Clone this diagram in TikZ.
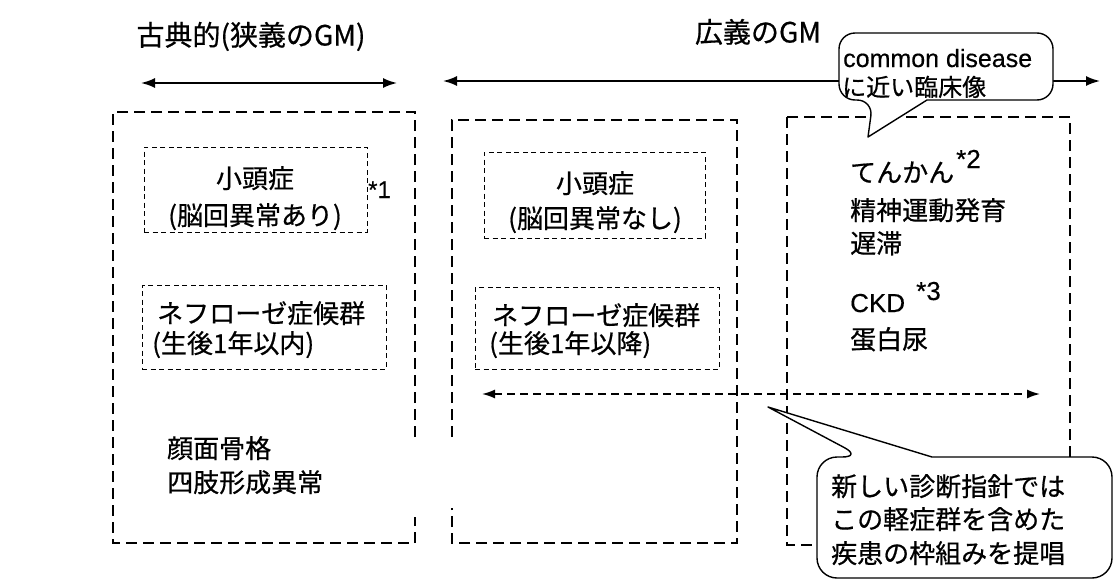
\documentclass[tikz,border=0pt]{standalone}
\usepackage{fontspec}
\setmainfont{Noto Sans CJK JP}[UprightFeatures={FakeBold=0.6}]
\newfontfamily\lat{Liberation Sans}[UprightFeatures={FakeBold=0.4}]
\usetikzlibrary{arrows.meta}
\begin{document}
\begin{tikzpicture}[x=1pt,y=-1pt,
  outerbox/.style={line width=1.4pt, dash pattern=on 11pt off 6pt},
  innerbox/.style={draw, line width=0.9pt, dash pattern=on 5pt off 3.5pt, inner sep=0pt},
  jp/.style={font=\fontsize{26}{30}\selectfont, inner sep=0pt},
  titletxt/.style={font=\fontsize{28}{32}\selectfont, inner sep=0pt, anchor=base},
  latnote/.style={font=\lat\fontsize{24}{26}\selectfont, inner sep=0pt, anchor=base west},
  callout/.style={draw, line width=1.4pt, fill=white, line join=round},
  solidarr/.style={line width=1.8pt, {Latex[length=14pt,width=10pt]}-{Latex[length=14pt,width=10pt]}},
  dasharr/.style={line width=1.6pt, dash pattern=on 8pt off 5pt, {Latex[length=13pt,width=9pt]}-{Latex[length=13pt,width=9pt]}},
]
\fill[white] (0,0) rectangle (1119,581);
\useasboundingbox (0,0) rectangle (1119,581);

% titles
\node[titletxt] (t1) at (251,45.5) {古典的(狭義のGM)};
\node[titletxt] (t2) at (758,42.5) {広義のGM};

% range arrows
\coordinate (a1l) at (141,83);
\coordinate (a1r) at (397,83);
\draw[solidarr] (a1l) -- (a1r);
\coordinate (a2l) at (443,81);
\coordinate (a2r) at (1100,81);
\draw[solidarr] (a2l) -- (a2r);

% outer dashed boxes
\draw[outerbox] (415,437) -- (415,112) -- (113,112) -- (113,543) -- (415,543) -- (415,517);
\draw[outerbox] (452,437) -- (452,120) -- (737,120) -- (737,543) -- (452,543) -- (452,508);
\draw[outerbox] (787,117) rectangle (1070,545);

% column 1
\node[innerbox, minimum width=223pt, minimum height=85pt] (m1) at (255.5,189.5) {};
\node[jp, anchor=base] (m1a) at (255,188) {小頭症};
\node[jp, anchor=base] (m1b) at (255,225) {(脳回異常あり)};
\node[latnote, font=\lat\fontsize{24}{26}\selectfont] (s1) at (368,198) {*1};
\node[innerbox, minimum width=244pt, minimum height=84pt] (n1) at (264,327) {};
\node[jp, anchor=base west] (n1a) at (157,323) {ネフローゼ症候群};
\node[jp, anchor=base west] (n1b) at (152,353) {(生後1年以内)};
\node[jp, anchor=base west] (f1) at (167,458) {顔面骨格};
\node[jp, anchor=base west] (f2) at (167,492) {四肢形成異常};

% column 2
\node[innerbox, minimum width=221pt, minimum height=86pt] (m2) at (594.5,195) {};
\node[jp, anchor=base] (m2a) at (595,193) {小頭症};
\node[jp, anchor=base] (m2b) at (595,228) {(脳回異常なし)};
\node[innerbox, minimum width=244pt, minimum height=82pt] (n2) at (597,328) {};
\node[jp, anchor=base west] (n2a) at (492,325) {ネフローゼ症候群};
\node[jp, anchor=base west] (n2b) at (489,353) {(生後1年以降)};

% column 3
\node[jp, anchor=base west] (e1) at (850,182) {てんかん};
\node[latnote, font=\lat\fontsize{26}{28}\selectfont] (s2) at (956,168) {*2};
\node[jp, anchor=base west] (e2) at (850,220) {精神運動発育};
\node[jp, anchor=base west] (e3) at (850,253) {遅滞};
\node[latnote, font=\lat\fontsize{26}{28}\selectfont] (c1) at (850,312) {CKD};
\node[latnote, font=\lat\fontsize{26}{28}\selectfont] (s3) at (916,300) {*3};
\node[jp, anchor=base west] (c2) at (850,349) {蛋白尿};

% dashed span arrow
\coordinate (dl) at (482,394);
\coordinate (dr) at (1040,394);
\draw[dasharr] (dl) -- (dr);

% callout 1
\draw[callout] (927,100) [rounded corners=16pt] -| (1053,33) -| (839,100) -- (873,100) [sharp corners] -- (868,137) -- cycle;
\node[latnote, font=\lat\fontsize{25}{27}\selectfont] (k1) at (843,67) {common disease};
\node[jp, font=\fontsize{24}{26}\selectfont, anchor=base west] (k2) at (842,96) {に近い臨床像};

% callout 2
\draw[callout] (932,457) [rounded corners=20pt] -| (1112,578) -| (817,457) -- (862,457) [sharp corners] -- (768,407) -- cycle;
\node[jp, anchor=base west] (g1) at (831,496) {新しい診断指針では};
\node[jp, anchor=base west] (g2) at (831,529) {この軽症群を含めた};
\node[jp, anchor=base west] (g3) at (831,563) {疾患の枠組みを提唱};
\end{tikzpicture}
\end{document}
